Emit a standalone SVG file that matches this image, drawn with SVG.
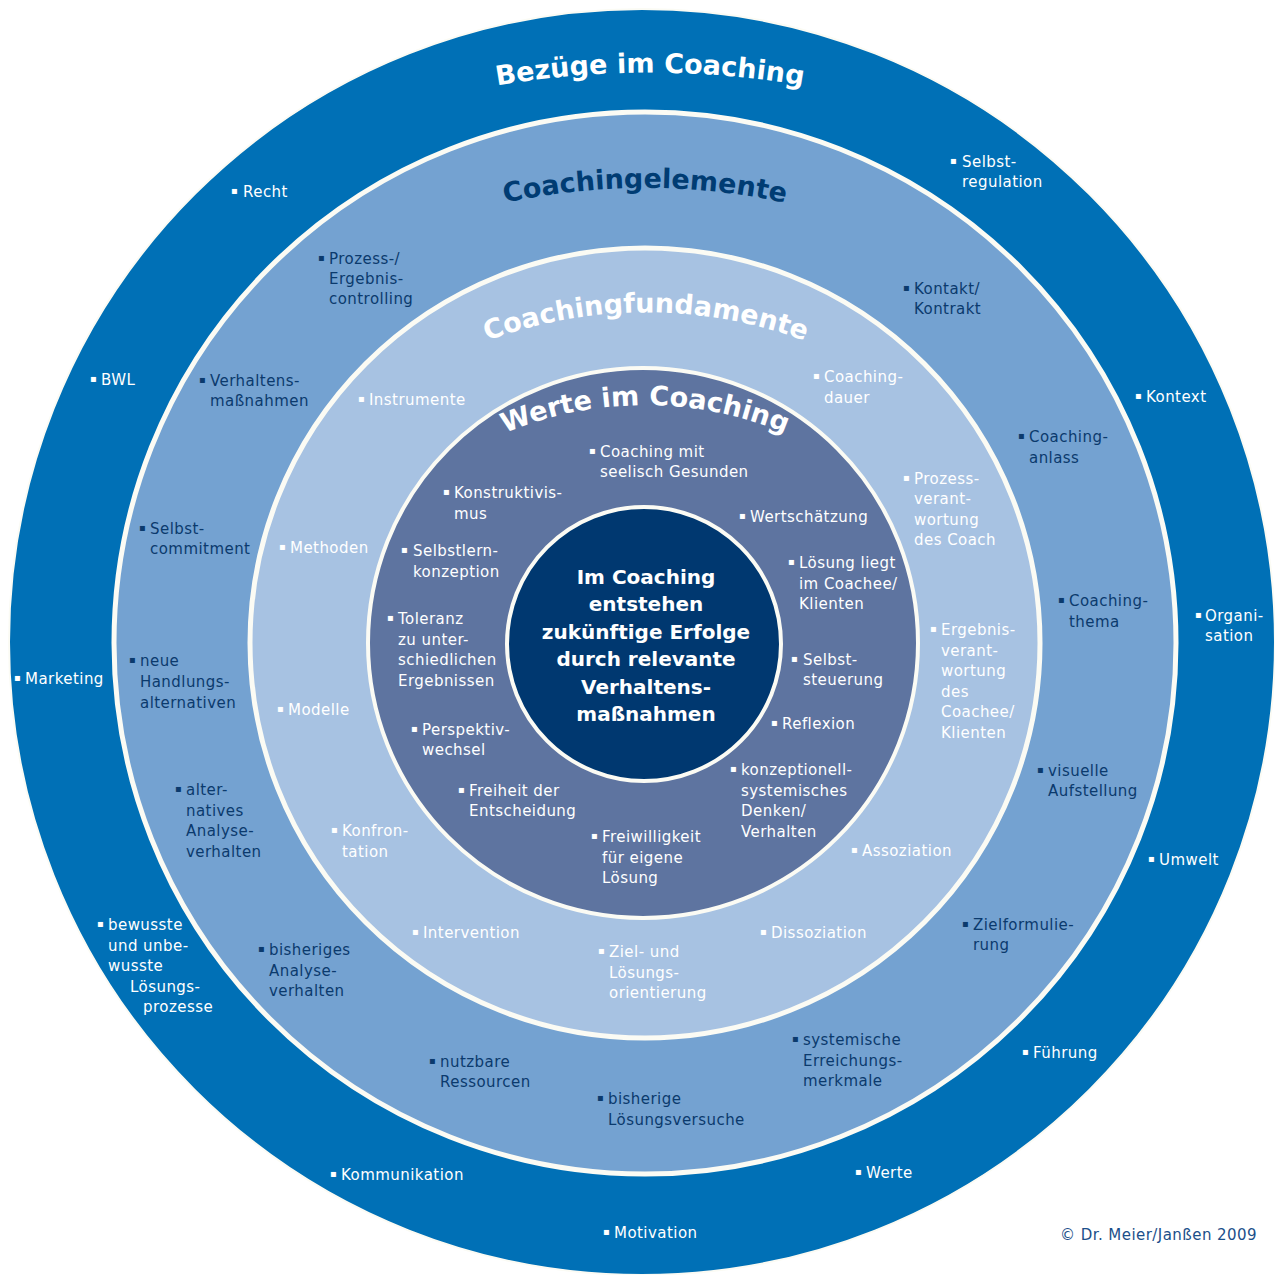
<svg xmlns="http://www.w3.org/2000/svg" width="1275" height="1275" viewBox="0 0 1275 1275">
<style>
text{font-family:"DejaVu Sans",Verdana,"Liberation Sans",sans-serif;font-size:15px;letter-spacing:0.45px;}
.w{fill:#ffffff;}
.d{fill:#0b3a6d;}
.b{font-size:10px;letter-spacing:0;baseline-shift:3px;}
.title{font-weight:bold;font-size:27px;letter-spacing:0;}
.ctr{font-weight:bold;font-size:20px;fill:#ffffff;text-anchor:middle;letter-spacing:0;}
.ring{stroke:#fbfbf4;}
</style>
<defs>
<path id="p1" d="M 400 108 A 900 900 0 0 1 900 108"/>
<path id="p2" d="M 395 237 A 661 661 0 0 1 895 237"/>
<path id="p3" d="M 396 387 A 456 456 0 0 1 896 387"/>
<path id="p4" d="M 345 563 A 364 364 0 0 1 945 563"/>
</defs>
<rect width="1275" height="1275" fill="#ffffff"/>
<g id="ring-bezuege">
<circle class="ring" cx="642" cy="642" r="633" fill="#0070b6" stroke-width="2"/>
<text class="title w"><textPath href="#p1" startOffset="50%" text-anchor="middle">Bezüge im Coaching</textPath></text>
<text class="w" y="197"><tspan class="b" x="231">▪</tspan><tspan x="243" y="197">Recht</tspan></text>
<text class="w" y="167"><tspan class="b" x="950">▪</tspan><tspan x="962" y="167">Selbst-</tspan><tspan x="962" dy="20">regulation</tspan></text>
<text class="w" y="385"><tspan class="b" x="90">▪</tspan><tspan x="101" y="385">BWL</tspan></text>
<text class="w" y="402"><tspan class="b" x="1135">▪</tspan><tspan x="1146" y="402">Kontext</tspan></text>
<text class="w" y="621"><tspan class="b" x="1195">▪</tspan><tspan x="1205" y="621">Organi-</tspan><tspan x="1205" dy="20">sation</tspan></text>
<text class="w" y="684"><tspan class="b" x="14">▪</tspan><tspan x="25" y="684">Marketing</tspan></text>
<text class="w" y="865"><tspan class="b" x="1148">▪</tspan><tspan x="1159" y="865">Umwelt</tspan></text>
<text class="w" y="930"><tspan class="b" x="97">▪</tspan><tspan x="108" y="930">bewusste</tspan><tspan x="108" dy="20.5">und unbe-</tspan><tspan x="108" dy="20.5">wusste</tspan><tspan x="130" dy="20.5">Lösungs-</tspan><tspan x="143" dy="20.5">prozesse</tspan></text>
<text class="w" y="1058"><tspan class="b" x="1022">▪</tspan><tspan x="1033" y="1058">Führung</tspan></text>
<text class="w" y="1180"><tspan class="b" x="330">▪</tspan><tspan x="341" y="1180">Kommunikation</tspan></text>
<text class="w" y="1178"><tspan class="b" x="855">▪</tspan><tspan x="866" y="1178">Werte</tspan></text>
<text class="w" y="1238"><tspan class="b" x="603">▪</tspan><tspan x="614" y="1238">Motivation</tspan></text>
</g>
<g id="ring-elemente">
<circle class="ring" cx="645" cy="643" r="531" fill="#74a2d1" stroke-width="5"/>
<text class="title" fill="#003c73"><textPath href="#p2" startOffset="50%" text-anchor="middle">Coachingelemente</textPath></text>
<text class="d" y="264"><tspan class="b" x="318">▪</tspan><tspan x="329" y="264">Prozess-/</tspan><tspan x="329" dy="20">Ergebnis-</tspan><tspan x="329" dy="20">controlling</tspan></text>
<text class="d" y="294"><tspan class="b" x="903">▪</tspan><tspan x="914" y="294">Kontakt/</tspan><tspan x="914" dy="20">Kontrakt</tspan></text>
<text class="d" y="386"><tspan class="b" x="199">▪</tspan><tspan x="210" y="386">Verhaltens-</tspan><tspan x="210" dy="20">maßnahmen</tspan></text>
<text class="d" y="442"><tspan class="b" x="1018">▪</tspan><tspan x="1029" y="442">Coaching-</tspan><tspan x="1029" dy="21">anlass</tspan></text>
<text class="d" y="534"><tspan class="b" x="139">▪</tspan><tspan x="150" y="534">Selbst-</tspan><tspan x="150" dy="20">commitment</tspan></text>
<text class="d" y="606"><tspan class="b" x="1058">▪</tspan><tspan x="1069" y="606">Coaching-</tspan><tspan x="1069" dy="21">thema</tspan></text>
<text class="d" y="666"><tspan class="b" x="129">▪</tspan><tspan x="140" y="666">neue</tspan><tspan x="140" dy="21">Handlungs-</tspan><tspan x="140" dy="21">alternativen</tspan></text>
<text class="d" y="776"><tspan class="b" x="1037">▪</tspan><tspan x="1048" y="776">visuelle</tspan><tspan x="1048" dy="20">Aufstellung</tspan></text>
<text class="d" y="795"><tspan class="b" x="175">▪</tspan><tspan x="186" y="795">alter-</tspan><tspan x="186" dy="20.7">natives</tspan><tspan x="186" dy="20.7">Analyse-</tspan><tspan x="186" dy="20.7">verhalten</tspan></text>
<text class="d" y="930"><tspan class="b" x="962">▪</tspan><tspan x="973" y="930">Zielformulie-</tspan><tspan x="973" dy="20">rung</tspan></text>
<text class="d" y="955"><tspan class="b" x="258">▪</tspan><tspan x="269" y="955">bisheriges</tspan><tspan x="269" dy="20.5">Analyse-</tspan><tspan x="269" dy="20.5">verhalten</tspan></text>
<text class="d" y="1045"><tspan class="b" x="792">▪</tspan><tspan x="803" y="1045">systemische</tspan><tspan x="803" dy="20.5">Erreichungs-</tspan><tspan x="803" dy="20.5">merkmale</tspan></text>
<text class="d" y="1067"><tspan class="b" x="429">▪</tspan><tspan x="440" y="1067">nutzbare</tspan><tspan x="440" dy="20">Ressourcen</tspan></text>
<text class="d" y="1104"><tspan class="b" x="597">▪</tspan><tspan x="608" y="1104">bisherige</tspan><tspan x="608" dy="21">Lösungsversuche</tspan></text>
</g>
<g id="ring-fundamente">
<circle class="ring" cx="645" cy="643" r="395" fill="#a7c2e2" stroke-width="5"/>
<text class="title w"><textPath href="#p3" startOffset="50%" text-anchor="middle">Coachingfundamente</textPath></text>
<text class="w" y="405"><tspan class="b" x="358">▪</tspan><tspan x="369" y="405">Instrumente</tspan></text>
<text class="w" y="382"><tspan class="b" x="813">▪</tspan><tspan x="824" y="382">Coaching-</tspan><tspan x="824" dy="21">dauer</tspan></text>
<text class="w" y="484"><tspan class="b" x="903">▪</tspan><tspan x="914" y="484">Prozess-</tspan><tspan x="914" dy="20.3">verant-</tspan><tspan x="914" dy="20.3">wortung</tspan><tspan x="914" dy="20.3">des Coach</tspan></text>
<text class="w" y="553"><tspan class="b" x="279">▪</tspan><tspan x="290" y="553">Methoden</tspan></text>
<text class="w" y="635"><tspan class="b" x="930">▪</tspan><tspan x="941" y="635">Ergebnis-</tspan><tspan x="941" dy="20.6">verant-</tspan><tspan x="941" dy="20.6">wortung</tspan><tspan x="941" dy="20.6">des</tspan><tspan x="941" dy="20.6">Coachee/</tspan><tspan x="941" dy="20.6">Klienten</tspan></text>
<text class="w" y="715"><tspan class="b" x="277">▪</tspan><tspan x="288" y="715">Modelle</tspan></text>
<text class="w" y="836"><tspan class="b" x="331">▪</tspan><tspan x="342" y="836">Konfron-</tspan><tspan x="342" dy="21">tation</tspan></text>
<text class="w" y="856"><tspan class="b" x="851">▪</tspan><tspan x="862" y="856">Assoziation</tspan></text>
<text class="w" y="938"><tspan class="b" x="412">▪</tspan><tspan x="423" y="938">Intervention</tspan></text>
<text class="w" y="938"><tspan class="b" x="760">▪</tspan><tspan x="771" y="938">Dissoziation</tspan></text>
<text class="w" y="957"><tspan class="b" x="598">▪</tspan><tspan x="609" y="957">Ziel- und</tspan><tspan x="609" dy="20.5">Lösungs-</tspan><tspan x="609" dy="20.5">orientierung</tspan></text>
</g>
<g id="ring-werte">
<circle class="ring" cx="643" cy="643" r="275" fill="#5e74a0" stroke-width="4"/>
<text class="title w"><textPath href="#p4" startOffset="50%" text-anchor="middle">Werte im Coaching</textPath></text>
<text class="w" y="457"><tspan class="b" x="589">▪</tspan><tspan x="600" y="457">Coaching mit</tspan><tspan x="600" dy="20">seelisch Gesunden</tspan></text>
<text class="w" y="498"><tspan class="b" x="443">▪</tspan><tspan x="454" y="498">Konstruktivis-</tspan><tspan x="454" dy="21">mus</tspan></text>
<text class="w" y="522"><tspan class="b" x="739">▪</tspan><tspan x="750" y="522">Wertschätzung</tspan></text>
<text class="w" y="556"><tspan class="b" x="401">▪</tspan><tspan x="413" y="556">Selbstlern-</tspan><tspan x="413" dy="21">konzeption</tspan></text>
<text class="w" y="568"><tspan class="b" x="788">▪</tspan><tspan x="799" y="568">Lösung liegt</tspan><tspan x="799" dy="20.5">im Coachee/</tspan><tspan x="799" dy="20.5">Klienten</tspan></text>
<text class="w" y="624"><tspan class="b" x="387">▪</tspan><tspan x="398" y="624">Toleranz</tspan><tspan x="398" dy="20.5">zu unter-</tspan><tspan x="398" dy="20.5">schiedlichen</tspan><tspan x="398" dy="20.5">Ergebnissen</tspan></text>
<text class="w" y="665"><tspan class="b" x="791">▪</tspan><tspan x="803" y="665">Selbst-</tspan><tspan x="803" dy="20">steuerung</tspan></text>
<text class="w" y="729"><tspan class="b" x="771">▪</tspan><tspan x="782" y="729">Reflexion</tspan></text>
<text class="w" y="735"><tspan class="b" x="411">▪</tspan><tspan x="422" y="735">Perspektiv-</tspan><tspan x="422" dy="20">wechsel</tspan></text>
<text class="w" y="775"><tspan class="b" x="730">▪</tspan><tspan x="741" y="775">konzeptionell-</tspan><tspan x="741" dy="20.5">systemisches</tspan><tspan x="741" dy="20.5">Denken/</tspan><tspan x="741" dy="20.5">Verhalten</tspan></text>
<text class="w" y="796"><tspan class="b" x="458">▪</tspan><tspan x="469" y="796">Freiheit der</tspan><tspan x="469" dy="20">Entscheidung</tspan></text>
<text class="w" y="842"><tspan class="b" x="591">▪</tspan><tspan x="602" y="842">Freiwilligkeit</tspan><tspan x="602" dy="20.5">für eigene</tspan><tspan x="602" dy="20.5">Lösung</tspan></text>
</g>
<g id="center">
<circle class="ring" cx="644" cy="644" r="137" fill="#003870" stroke-width="4"/>
<text class="ctr"><tspan x="646" y="584">Im Coaching</tspan><tspan x="646" y="611">entstehen</tspan><tspan x="646" y="639">zukünftige Erfolge</tspan><tspan x="646" y="666">durch relevante</tspan><tspan x="646" y="694">Verhaltens-</tspan><tspan x="646" y="721">maßnahmen</tspan></text>
</g>
<g id="copyright">
<text y="1240" fill="#1b4f8a"><tspan x="1060">© Dr. Meier/Janßen 2009</tspan></text>
</g>
</svg>
